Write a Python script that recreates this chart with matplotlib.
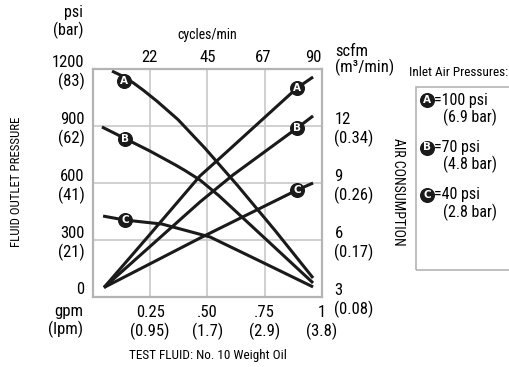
import matplotlib.pyplot as plt
from matplotlib.patches import Rectangle

FONT = ['Roboto Condensed', 'DejaVu Sans']
plt.rcParams['font.family'] = FONT

# fluid outlet pressure (psi) vs flow (gpm)
outA_x = [0.083, 0.13, 0.175, 0.22, 0.28, 0.371, 0.489, 0.629, 0.795, 0.961]
outA_y = [1189, 1162, 1128, 1088, 1030, 934, 783, 590, 350, 100]
outB_x = [0.039, 0.14, 0.249, 0.36, 0.40, 0.467, 0.55, 0.961]
outB_y = [895, 834, 768, 695, 667, 616, 533, 74]
outC_x = [0.044, 0.14, 0.301, 0.511, 0.729, 0.961]
outC_y = [426, 405, 384, 316, 189, 53]

# air consumption (scfm) vs flow (gpm)
airA_x = [0.048, 0.249, 0.467, 0.555, 0.891, 0.961]
airA_y = [3.5, 6.3, 9.37, 10.32, 14.0, 14.58]
airB_x = [0.048, 0.467, 0.611, 0.891, 0.961]
airB_y = [3.5, 8.0, 9.42, 11.89, 12.53]
airC_x = [0.048, 0.467, 0.891, 0.961]
airC_y = [3.5, 6.1, 8.63, 9.0]

# label markers
out_mark_x = [0.135, 0.14, 0.14]
out_mark_y = [1135, 832, 405]
air_mark_x = [0.891, 0.891, 0.891]
air_mark_y = [14.0, 11.89, 8.63]
letters = ['A', 'B', 'C']

psi_ticks = [0, 300, 600, 900, 1200]
bar_ticks = ['', '21', '41', '62', '83']
gpm_ticks = [0.25, 0.5, 0.75, 1]
gpm_lbl = ['0.25', '.50', '.75', '1']
lpm_lbl = ['0.95', '1.7', '2.9', '3.8']
cpm_ticks = [22, 45, 67, 90]
scfm_ticks = [3, 6, 9, 12]
m3_lbl = ['0.08', '0.17', '0.26', '0.34']
legend_psi = ['100', '70', '40']
legend_bar = ['6.9', '4.8', '2.8']

W, H = 510, 367
fig = plt.figure(figsize=(W / 100, H / 100), dpi=100)
ax = fig.add_axes([93 / W, 70 / H, 229 / W, 228 / H])
ax.set_xlim(0, 1)
ax.set_ylim(0, 1200)

grey = '#b4b4b4'
ink = '#1a1a1a'
for s in ax.spines.values():
    s.set_color(grey)
    s.set_linewidth(1.6)
ax.grid(True, color='#c8c8c8', lw=1.2)
ax.set_axisbelow(True)

ax.set_xticks(gpm_ticks)
ax.set_xticklabels([f'{g}\n({l})' for g, l in zip(gpm_lbl, lpm_lbl)])
ax.set_yticks(psi_ticks)
ax.set_yticklabels([f'{p}\n({b})' if b else f'{p}' for p, b in zip(psi_ticks, bar_ticks)])
ax.tick_params(length=0, labelsize=12, pad=6)
ax.get_yticklabels()[0].set_va('bottom')

top = ax.secondary_xaxis('top', functions=(lambda g: g * 90, lambda c: c / 90))
top.set_xticks(cpm_ticks)
top.tick_params(length=0, labelsize=12, pad=3)
top.spines['top'].set_visible(False)
top.get_xticklabels()[-1].set_ha('right')

ax2 = ax.twinx()
ax2.set_ylim(3, 15)
ax2.set_yticks(scfm_ticks)
ax2.set_yticklabels([f'{s}\n({m})' for s, m in zip(scfm_ticks, m3_lbl)])
ax2.tick_params(length=0, labelsize=12, pad=9)
for s in ax2.spines.values():
    s.set_visible(False)

lw = 2.2
ax.plot(outA_x, outA_y, color=ink, lw=lw, solid_capstyle='butt')
ax.plot(outB_x, outB_y, color=ink, lw=lw, solid_capstyle='butt')
ax.plot(outC_x, outC_y, color=ink, lw=lw, solid_capstyle='butt')
ax2.plot(airA_x, airA_y, color=ink, lw=lw, solid_capstyle='butt')
ax2.plot(airB_x, airB_y, color=ink, lw=lw, solid_capstyle='butt')
ax2.plot(airC_x, airC_y, color=ink, lw=lw, solid_capstyle='butt')


def badge(a, x, y, letter):
    a.plot(x, y, 'o', ms=9.8, color=ink, zorder=5)
    a.text(x, y, letter, color='white', fontsize=7.5, weight='bold', family='DejaVu Sans',
           ha='center', va='center', zorder=6)


for x, y, l in zip(out_mark_x, out_mark_y, letters):
    badge(ax, x, y, l)
for x, y, l in zip(air_mark_x, air_mark_y, letters):
    badge(ax2, x, y, l)


def ft(px, py, s, **kw):
    fig.text(px / W, 1 - py / H, s, **kw)


ft(83, 22, 'psi\n(bar)', ha='right', va='center', fontsize=11.5, linespacing=1.15)
ft(83, 321, 'gpm\n(lpm)', ha='right', va='center', fontsize=12, linespacing=1.15)
ft(335, 60, 'scfm\n(m³/min)', ha='left', va='center', fontsize=12, linespacing=1.05)
ft(207, 35, 'cycles/min', ha='center', va='center', fontsize=10)
ft(17, 182, 'FLUID OUTLET PRESSURE', ha='center', va='center', rotation=90, fontsize=9.3)
ft(398, 192, 'AIR CONSUMPTION', ha='center', va='center', rotation=-90, fontsize=10)
ft(208, 356, 'TEST FLUID: No. 10 Weight Oil', ha='center', va='center', fontsize=9.5)
ft(409, 73, 'Inlet Air Pressures:', ha='left', va='center', fontsize=9.5)

fig.patches.append(Rectangle((416 / W, 1 - 270 / H), 100 / W, 183 / H, transform=fig.transFigure,
                             fill=False, edgecolor=grey, lw=1.2))
for i, l in enumerate(letters):
    py = 100 + i * 47.5
    fig.add_artist(plt.Line2D([427 / W], [1 - py / H], marker='o', ms=9.8, color=ink,
                              transform=fig.transFigure))
    ft(427, py, l, color='white', fontsize=7.5, weight='bold', family='DejaVu Sans',
       ha='center', va='center')
    ft(434, py, f'={legend_psi[i]} psi', ha='left', va='center', fontsize=11.5)
    ft(443, py + 17, f'({legend_bar[i]} bar)', ha='left', va='center', fontsize=11.5)

fig.savefig('out.png', dpi=100)
